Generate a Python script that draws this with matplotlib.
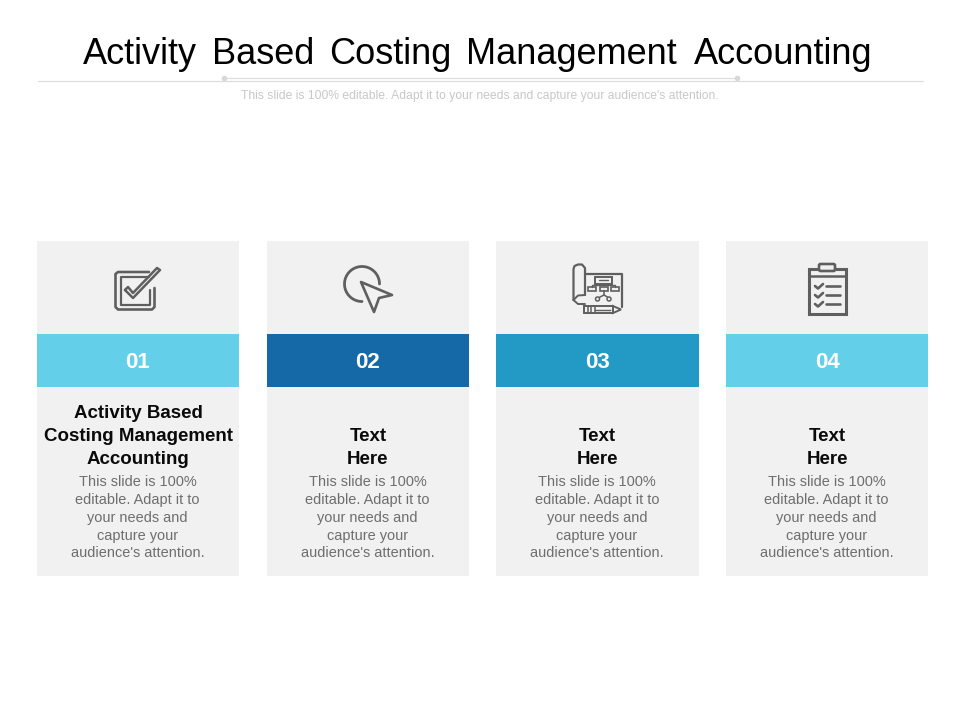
import numpy as np
import matplotlib
matplotlib.use("Agg")
import matplotlib.pyplot as plt
from matplotlib.patches import Rectangle, Polygon, Circle, FancyBboxPatch

plt.rcParams['font.family'] = ['Liberation Sans', 'DejaVu Sans']

# Slide content
title_words = ["Activity", "Based", "Costing", "Management", "Accounting"]
title_left = [83, 212, 329, 466, 694]
subtitle = "This slide is 100% editable. Adapt it to your needs and capture your audience's attention."
numbers = ["01", "02", "03", "04"]
headings = ["Activity Based\nCosting Management\nAccounting", "Text\nHere", "Text\nHere", "Text\nHere"]
body = "This slide is 100%\neditable. Adapt it to\nyour needs and\ncapture your\naudience's attention."
band_colors = ["#63cfe8", "#1569a6", "#2399c6", "#63cfe8"]
card_left = [37, 267, 496, 726]
card_width = [202, 202, 203, 202]

ICON = "#5f5f5f"

fig = plt.figure(figsize=(9.6, 7.2), dpi=100)
ax = fig.add_axes([0, 0, 1, 1])
ax.set_xlim(0, 960)
ax.set_ylim(720, 0)
ax.axis("off")


def line(xs, ys, lw=1.6):
    ax.plot(xs, ys, color=ICON, lw=lw, solid_capstyle="round", solid_joinstyle="round", zorder=3)


def rect(x, y, w, h, lw=1.2, fc="none"):
    ax.add_patch(Rectangle((x, y), w, h, fc=fc, ec=ICON, lw=lw, zorder=3))


# Header
for word, left in zip(title_words, title_left):
    ax.text(left, 64, word, ha="left", va="baseline", fontsize=26, color="#000000")
ax.plot([38, 923], [80.5, 80.5], color="#dedede", lw=0.9)
ax.plot([224, 737], [77.5, 77.5], color="#dedede", lw=0.9)
ax.plot([224, 737], [77.5, 77.5], ls="none", marker="o", ms=3, color="#d8d8d8")
ax.text(480, 96.5, subtitle, ha="center", va="center", fontsize=8.7, color="#c8c8c8")

# Cards
for x, w, num, head, col in zip(card_left, card_width, numbers, headings, band_colors):
    cx = x + w / 2
    ax.add_patch(Rectangle((x, 241), w, 335, fc="#f1f1f1", ec="none"))
    ax.add_patch(Rectangle((x, 334), w, 53, fc=col, ec="none"))
    ax.text(cx, 362.5, num, ha="center", va="center", fontsize=16, fontweight="bold", color="white")
    # heading sits directly above the body text, growing upward
    n_lines = head.count("\n") + 1
    for i, row in enumerate(head.split("\n")):
        ax.text(cx, 459 - 22.5 * (n_lines - 1 - i), row, ha="center", va="center",
                fontsize=13.5, fontweight="bold", color="#0a0a0a")
    for i, row in enumerate(body.split("\n")):
        ax.text(cx - 0.5, 482.5 + 17.7 * i, row, ha="center", va="center", fontsize=10.45, color="#6e6e6e")

# Icon 1: checkbox
line([149, 118, 115.5, 115.5, 118, 152, 154.5, 154.5], [272, 272, 274, 307, 309.5, 309.5, 307, 288], lw=1.9)
line([149, 120.5, 120.5, 149.5, 149.5], [277, 277, 304.5, 304.5, 290], lw=1.6)
line([125, 133, 160, 157, 133, 128, 125], [290, 298, 270, 268, 293, 287, 290], lw=1.8)

# Icon 2: cursor over circle
t = np.radians(np.linspace(90, 360, 60))
line(362 + 17.5 * np.cos(t), 284 + 17.5 * np.sin(t), lw=2)
ax.add_patch(Polygon([(361, 282), (392, 295), (379, 298), (374, 312)], closed=True,
                     fc="#f1f1f1", ec=ICON, lw=1.9, zorder=4, joinstyle="round"))

# Icon 3: blueprint with flow chart and pencil
line([585, 622, 622], [273.5, 273.5, 307], lw=1.6)
line([585, 585, 582, 578, 574.5, 573.5, 573.5], [295, 268, 264.5, 264.5, 266, 269, 300], lw=1.6)
line([573.5, 578, 585], [300, 295.5, 295], lw=1.4)
line([573.5, 578, 585], [300, 304, 304], lw=1.4)
rect(595, 276.5, 17, 7, lw=1.4)
line([599, 608], [280, 280], lw=1)
rect(588, 286.5, 8, 4, lw=1.2)
rect(600, 286.5, 8, 4, lw=1.2)
rect(611, 286.5, 8, 4, lw=1.2)
line([592, 592, 615, 615], [286.5, 285, 285, 286.5], lw=1)
line([604, 604, 598], [290.5, 295, 298], lw=1.1)
line([604, 609], [295, 298], lw=1.1)
ax.add_patch(Circle((597.5, 299), 2, fc="#f1f1f1", ec=ICON, lw=1.1, zorder=3))
ax.add_patch(Circle((609, 299), 2, fc="#f1f1f1", ec=ICON, lw=1.1, zorder=3))
ax.add_patch(Rectangle((584, 306), 29, 7, fc="#f1f1f1", ec=ICON, lw=1.4, zorder=4))
ax.add_patch(Polygon([(613, 306), (621, 309.5), (613, 313)], closed=True, fc="#f1f1f1", ec=ICON, lw=1.4, zorder=4))
for px in [588, 591, 595]:
    ax.plot([px, px], [306, 313], color=ICON, lw=1.1, zorder=5)
ax.plot([595, 610], [309.5, 309.5], color=ICON, lw=1, zorder=5)

# Icon 4: clipboard
rect(808.5, 268.5, 37, 45.5, lw=2.2)
line([808.5, 845.5], [276, 276], lw=1.8)
ax.add_patch(FancyBboxPatch((819, 264), 16, 7, boxstyle="round,pad=0,rounding_size=1.5",
                            fc="#f1f1f1", ec=ICON, lw=1.9, zorder=4))
for y in [286, 295, 304]:
    line([815, 818, 823], [y, y + 2.5, y - 2], lw=1.9)
    line([826, 839.5], [y, y], lw=1.9)

fig.savefig("out.png", dpi=100)
